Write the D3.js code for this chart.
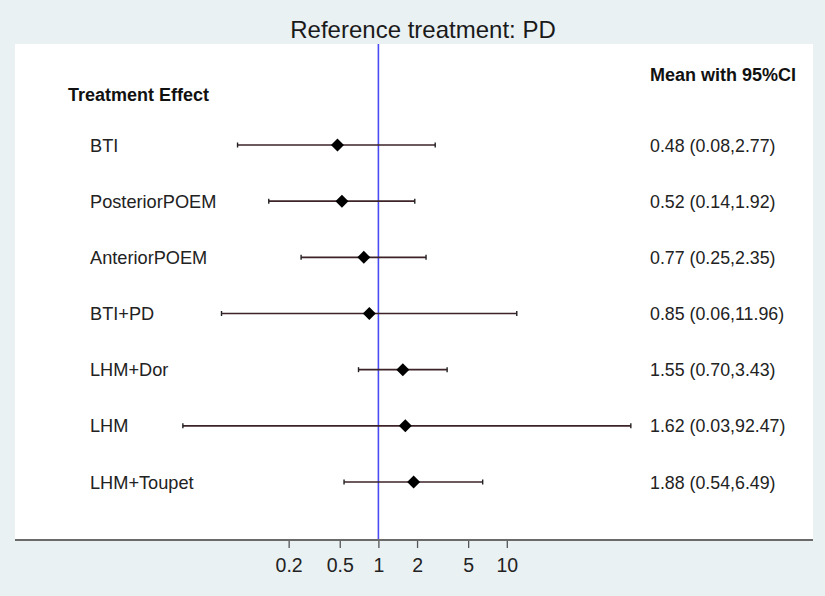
<!DOCTYPE html>
<html><head><meta charset="utf-8">
<script src="https://cdn.jsdelivr.net/npm/d3@7"></script>
<style>body{margin:0;background:#eaf1f3;} svg{display:block;}</style>
</head><body>
<svg id="chart" width="825" height="596"></svg>
<script>
const treatments = ["BTI","PosteriorPOEM","AnteriorPOEM","BTI+PD","LHM+Dor","LHM","LHM+Toupet"];
const means = [0.48,0.52,0.77,0.85,1.55,1.62,1.88];
const lower = [0.08,0.14,0.25,0.06,0.70,0.03,0.54];
const upper = [2.77,1.92,2.35,11.96,3.43,92.47,6.49];
const tickValues = [0.2,0.5,1,2,5,10];
const tickLabels = ["0.2","0.5","1","2","5","10"];

const FONT = "'Liberation Sans',Arial,sans-serif";
const svg = d3.select("#chart");
const W=825,H=596;
svg.append("rect").attr("width",W).attr("height",H).attr("fill","#eaf1f3");
const panel={x0:15,x1:813,y0:44,y1:540};
svg.append("rect").attr("x",panel.x0).attr("y",panel.y0).attr("width",panel.x1-panel.x0).attr("height",panel.y1-panel.y0).attr("fill","#ffffff");

// log scale: 1 at 378.4, 128.4 px per decade
const x = d3.scaleLog().domain([0.01,100]).range([378.4-2*128.4,378.4+2*128.4]);
const y = d3.scalePoint().domain(treatments).range([145,482]);

svg.append("text").attr("x",423).attr("y",37.5).attr("text-anchor","middle")
  .attr("font-family",FONT).attr("font-size",24).attr("fill","#1a1a1a")
  .text("Reference treatment: PD");

// reference line
svg.append("line").attr("x1",x(1)).attr("x2",x(1)).attr("y1",panel.y0).attr("y2",panel.y1)
  .attr("stroke","#4b4bf5").attr("stroke-width",1.6);

svg.append("text").attr("x",68).attr("y",101).attr("font-family",FONT)
  .attr("font-weight","bold").attr("font-size",18).attr("fill","#111").text("Treatment Effect");
svg.append("text").attr("x",650).attr("y",81).attr("font-family",FONT)
  .attr("font-weight","bold").attr("font-size",18).attr("fill","#111").text("Mean with 95%CI");

const rows = svg.append("g").selectAll("g").data(treatments).join("g")
  .attr("transform",d=>`translate(0,${y(d)})`);
rows.append("text").attr("x",90).attr("y",6.5).attr("font-family",FONT)
  .attr("font-size",18.2).attr("fill","#222").text(d=>d);
rows.append("line").attr("x1",(d,i)=>x(lower[i])).attr("x2",(d,i)=>x(upper[i]))
  .attr("stroke","#3d2328").attr("stroke-width",1.6);
rows.append("line").attr("x1",(d,i)=>x(lower[i])).attr("x2",(d,i)=>x(lower[i])).attr("y1",-2.5).attr("y2",2.5)
  .attr("stroke","#222").attr("stroke-width",1.4);
rows.append("line").attr("x1",(d,i)=>x(upper[i])).attr("x2",(d,i)=>x(upper[i])).attr("y1",-2.5).attr("y2",2.5)
  .attr("stroke","#222").attr("stroke-width",1.4);
rows.append("path").attr("d","M0,-6.5L6.5,0L0,6.5L-6.5,0Z").attr("fill","#000")
  .attr("transform",(d,i)=>`translate(${x(means[i])},0)`);
rows.append("text").attr("x",650).attr("y",6.5).attr("font-family",FONT)
  .attr("font-size",17.8).attr("fill","#222")
  .text((d,i)=>`${means[i].toFixed(2)} (${lower[i].toFixed(2)},${upper[i].toFixed(2)})`);

// axis
const axis = d3.axisBottom(x).tickValues(tickValues).tickFormat((d,i)=>tickLabels[i]).tickSize(8).tickPadding(0);
const ag = svg.append("g").attr("transform",`translate(0,${panel.y1})`).call(axis);
ag.select(".domain").remove();
ag.selectAll(".tick line").attr("stroke","#555").attr("stroke-width",1.3);
ag.selectAll(".tick text").attr("font-family",FONT).attr("font-size",19.5).attr("fill","#222")
  .attr("dy",null).attr("y",32);
svg.append("line").attr("x1",panel.x0).attr("x2",panel.x1).attr("y1",panel.y1).attr("y2",panel.y1)
  .attr("stroke","#6a6a6a").attr("stroke-width",2);
</script>
</body></html>
